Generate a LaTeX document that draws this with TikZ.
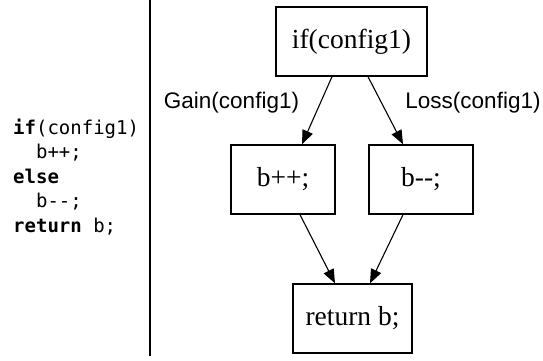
\documentclass[tikz,border=0pt]{standalone}
\usepackage{fontspec}
\setmainfont{Liberation Serif}
\setsansfont{Liberation Sans}
\newfontfamily\codefont{DejaVu Sans Mono}
\usetikzlibrary{arrows.meta}

\tikzset{
  stmt/.style={draw, line width=1.4pt, inner sep=0pt, font=\fontsize{27.5}{32}\selectfont},
  flow/.style={-{Triangle[length=14pt,width=11pt]}, line width=1.1pt},
  cond/.style={font=\sffamily\fontsize{22.5}{26}\selectfont}
}

\begin{document}
\begin{tikzpicture}[x=1pt,y=-1pt]
  \useasboundingbox (0,0) rectangle (543,360);

  % source code on the left
  \node[anchor=west, align=left, inner sep=0pt, font=\codefont\fontsize{19}{24.5}\selectfont] (code) at (13,177)
    {\textbf{if}(config1)\\\phantom{ii}b++;\\\textbf{else}\\\phantom{ii}b-{}-;\\\textbf{return} b;};

  \draw[line width=1.2pt] (150,0) -- (150,356);

  % control flow graph
  \node[stmt, minimum width=151pt, minimum height=69pt] (cfgif) at (351.5,41.5) {if(config1)};
  \node[stmt, minimum width=104pt, minimum height=69pt] (inc) at (283,179.5) {b++;};
  \node[stmt, minimum width=104pt, minimum height=69pt] (dec) at (421,179.5) {b-{}-;};
  \node[stmt, minimum width=119pt, minimum height=69pt] (ret) at (352.5,318.5) {return b;};

\node[cond] (gain) at (231.5,103) {Gain(config1)};
\node[cond] (loss) at (473,103) {Loss(config1)};

  \draw[flow] ([xshift=-19.5pt]cfgif.south) -- ([xshift=19pt]inc.north);
  \draw[flow] ([xshift=16.5pt]cfgif.south) -- ([xshift=-18pt]dec.north);
  \draw[flow] ([xshift=17pt]inc.south) -- ([xshift=-17.5pt]ret.north);
  \draw[flow] ([xshift=-18pt]dec.south) -- ([xshift=17.5pt]ret.north);
\end{tikzpicture}
\end{document}
